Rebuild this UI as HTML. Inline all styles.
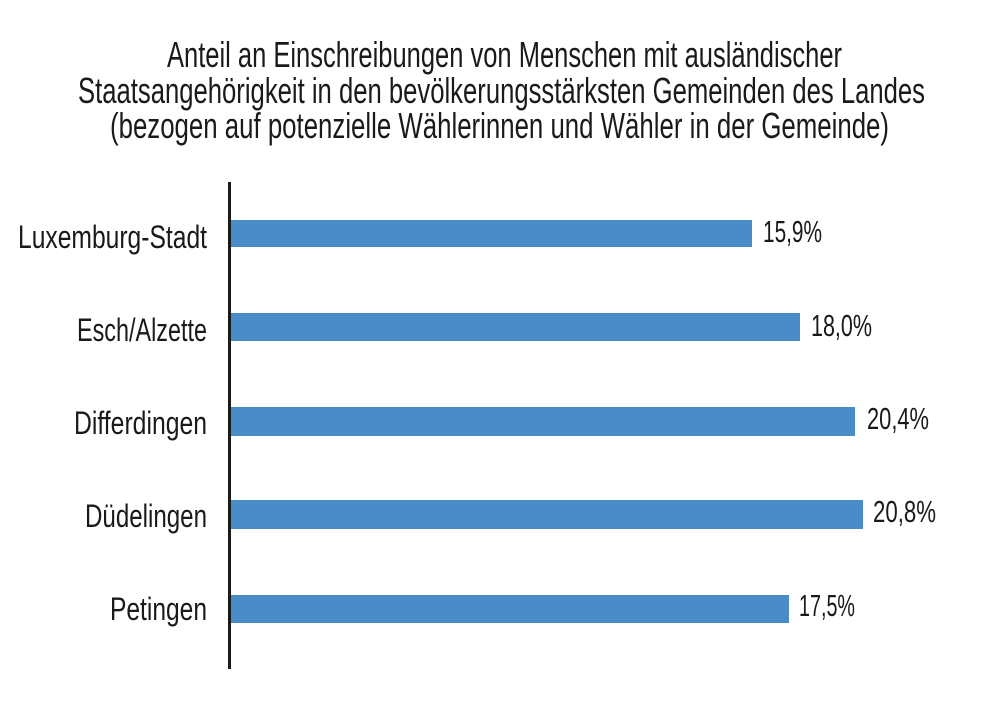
<!DOCTYPE html>
<html><head><meta charset="utf-8"><style>
html,body{margin:0;padding:0;background:#fff;}
svg{display:block;}
text{font-family:"Liberation Sans Narrow","Liberation Sans",sans-serif;fill:#1a1a1a;}
</style></head><body>
<svg width="1000" height="701" viewBox="0 0 1000 701" xmlns="http://www.w3.org/2000/svg">
<rect width="1000" height="701" fill="#fff"/>
<g font-size="36">
<text x="167" y="67" textLength="675" lengthAdjust="spacingAndGlyphs">Anteil an Einschreibungen von Menschen mit ausländischer</text>
<text x="78" y="103" textLength="847" lengthAdjust="spacingAndGlyphs">Staatsangehörigkeit in den bevölkerungsstärksten Gemeinden des Landes</text>
<text x="110" y="138" textLength="779" lengthAdjust="spacingAndGlyphs">(bezogen auf potenzielle Wählerinnen und Wähler in der Gemeinde)</text>
</g>
<rect x="228" y="182" width="3" height="487" fill="#1a1a1a"/>
<g fill="#4a8cc8">
<rect x="231" y="220" width="521" height="27"/>
<rect x="231" y="313" width="569" height="28"/>
<rect x="231" y="407" width="624" height="29"/>
<rect x="231" y="500" width="632" height="29"/>
<rect x="231" y="595" width="558" height="28"/>
</g>
<g font-size="32">
<text x="18" y="248" textLength="189" lengthAdjust="spacingAndGlyphs">Luxemburg-Stadt</text>
<text x="77" y="341" textLength="130" lengthAdjust="spacingAndGlyphs">Esch/Alzette</text>
<text x="74" y="434" textLength="133" lengthAdjust="spacingAndGlyphs">Differdingen</text>
<text x="85" y="527" textLength="122" lengthAdjust="spacingAndGlyphs">Düdelingen</text>
<text x="110" y="620" textLength="97" lengthAdjust="spacingAndGlyphs">Petingen</text>
</g>
<g font-size="31">
<text x="763" y="242" textLength="59" lengthAdjust="spacingAndGlyphs">15,9%</text>
<text x="811" y="336" textLength="61" lengthAdjust="spacingAndGlyphs">18,0%</text>
<text x="867" y="429" textLength="62" lengthAdjust="spacingAndGlyphs">20,4%</text>
<text x="873" y="522" textLength="63" lengthAdjust="spacingAndGlyphs">20,8%</text>
<text x="799" y="616" textLength="56" lengthAdjust="spacingAndGlyphs">17,5%</text>
</g>
</svg>
</body></html>
